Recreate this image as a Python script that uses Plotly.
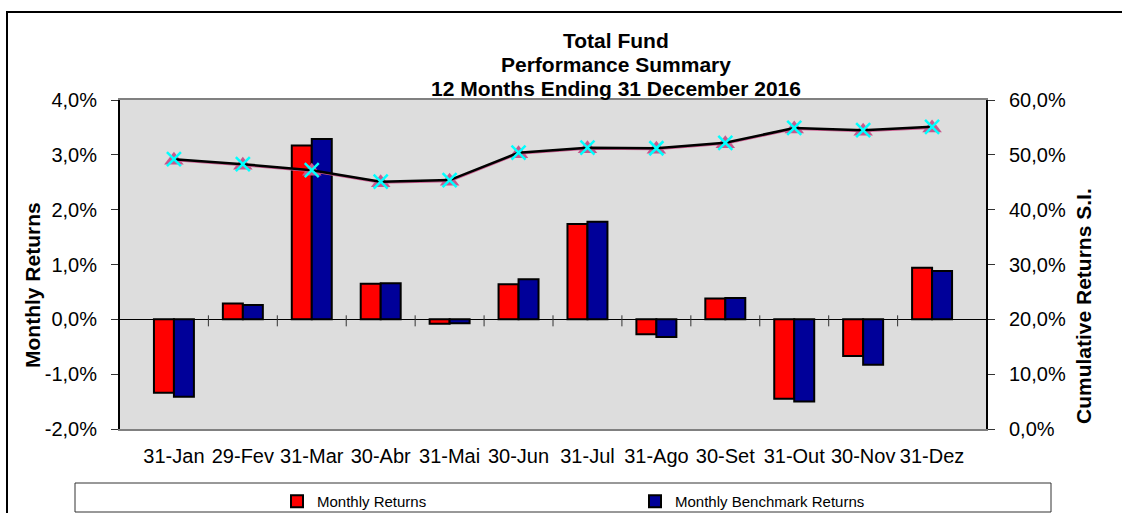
import plotly.graph_objects as go

categories = ["31-Jan", "29-Fev", "31-Mar", "30-Abr", "31-Mai", "30-Jun",
              "31-Jul", "31-Ago", "30-Set", "31-Out", "30-Nov", "31-Dez"]
monthly_returns = [-1.34, 0.29, 3.17, 0.65, -0.08, 0.64, 1.74, -0.27, 0.38, -1.45, -0.67, 0.94]
benchmark_returns = [-1.41, 0.26, 3.29, 0.66, -0.07, 0.73, 1.78, -0.32, 0.39, -1.50, -0.83, 0.88]
cumulative_fund = [49.2, 48.3, 47.2, 45.1, 45.4, 50.4, 51.3, 51.2, 52.2, 54.9, 54.5, 55.1]
cumulative_bench = [49.0, 48.1, 47.0, 44.9, 45.2, 50.2, 51.1, 51.0, 52.0, 54.7, 54.3, 54.9]
left_tick_values = [-2, -1, 0, 1, 2, 3, 4]
left_tick_labels = ["-2,0%", "-1,0%", "0,0%", "1,0%", "2,0%", "3,0%", "4,0%"]
right_tick_values = [0, 10, 20, 30, 40, 50, 60]
right_tick_labels = ["0,0%", "10,0%", "20,0%", "30,0%", "40,0%", "50,0%", "60,0%"]
title_lines = ["Total Fund", "Performance Summary", "12 Months Ending 31 December 2016"]

FONT = "Arial, Liberation Sans, sans-serif"
W, H = 1122, 513
L, R, T, B = 120, 136, 100, 84
PW, PH = W - L - R, H - T - B


def px(x):
    return (x - L) / PW


def py(y):
    return (H - B - y) / PH


fig = go.Figure()
fig.add_trace(go.Bar(x=categories, y=monthly_returns, name="Monthly Returns",
                     marker=dict(color="#FF0000", line=dict(color="black", width=2))))
fig.add_trace(go.Bar(x=categories, y=benchmark_returns, name="Monthly Benchmark Returns",
                     marker=dict(color="#000099", line=dict(color="black", width=2))))
fig.add_trace(go.Scatter(x=categories, y=cumulative_bench, yaxis="y2", mode="lines+markers",
                         showlegend=False,
                         line=dict(color="#CC5C8F", width=2),
                         marker=dict(symbol="triangle-up", size=17, color="#C8578C",
                                     line=dict(width=0))))
fig.add_trace(go.Scatter(x=categories, y=cumulative_fund, yaxis="y2", mode="lines+markers",
                         showlegend=False,
                         line=dict(color="black", width=2.5),
                         marker=dict(symbol="x-thin", size=14, color="#00FFFF",
                                     line=dict(color="#00FFFF", width=2.5))))

shapes = []
# tick marks on the zero line at category boundaries
for i in range(len(categories) - 1):
    shapes.append(dict(type="line", xref="x", yref="y", x0=i + 0.5, x1=i + 0.5,
                       ysizemode="pixel", yanchor=0, y0=-7, y1=4,
                       line=dict(color="#333333", width=1)))
# outer chart border
shapes.append(dict(type="rect", xref="paper", yref="paper",
                   x0=px(7), x1=px(1140), y0=py(12), y1=py(530),
                   line=dict(color="black", width=2), layer="above"))
# legend box
shapes.append(dict(type="rect", xref="paper", yref="paper",
                   x0=px(75), x1=px(1051), y0=py(483), y1=py(512),
                   line=dict(color="#333333", width=1), layer="above"))

annotations = []
for t, yy in zip(title_lines, [41, 65, 89]):
    annotations.append(dict(text="<b>%s</b>" % t, xref="paper", yref="paper",
                            x=px(615.5), y=py(yy), xanchor="center", yanchor="middle",
                            showarrow=False, font=dict(size=21, color="black", family=FONT)))
annotations.append(dict(text="<b>Monthly Returns</b>", xref="paper", yref="paper",
                        x=px(32), y=py(285), textangle=-90, xanchor="center", yanchor="middle",
                        showarrow=False, font=dict(size=21, color="black", family=FONT)))
annotations.append(dict(text="<b>Cumulative Returns S.I.</b>", xref="paper", yref="paper",
                        x=px(1083), y=py(306), textangle=-90, xanchor="center", yanchor="middle",
                        showarrow=False, font=dict(size=21, color="black", family=FONT)))

fig.update_layout(
    width=W, height=H,
    margin=dict(l=L, r=R, t=T, b=B, pad=0, autoexpand=False),
    paper_bgcolor="white",
    plot_bgcolor="#DDDDDD",
    font=dict(family=FONT, color="black", size=20),
    barmode="group", bargap=0.42, bargroupgap=0,
    showlegend=True,
    legend=dict(orientation="h", xref="container", yref="container",
                x=277 / W, y=1 - 485 / H, xanchor="left", yanchor="top",
                bgcolor="rgba(0,0,0,0)", borderwidth=0, entrywidth=313,
                font=dict(size=15, family=FONT, color="black")),
    xaxis=dict(type="category", showgrid=False, showline=True, linecolor="#808080",
               linewidth=2, mirror=True, ticks="outside", ticklen=8, tickangle=0,
               automargin=False,
               tickcolor="rgba(0,0,0,0)", tickfont=dict(size=20), zeroline=False),
    yaxis=dict(range=[-2, 4], tickmode="array", tickvals=left_tick_values,
               ticktext=left_tick_labels,
               showgrid=False, showline=True, linecolor="black", linewidth=2,
               ticks="outside", ticklen=7, tickcolor="#333333", automargin=False,
               zeroline=True, zerolinecolor="black", zerolinewidth=1,
               ticklabelstandoff=10),
    yaxis2=dict(range=[0, 60], tickmode="array", tickvals=right_tick_values,
                ticktext=right_tick_labels,
                overlaying="y", side="right", showgrid=False, showline=True,
                linecolor="black", linewidth=2, ticks="outside", ticklen=7,
                automargin=False,
                tickcolor="#333333", zeroline=False, ticklabelstandoff=10),
    shapes=shapes,
    annotations=annotations,
)

fig.write_html("out.html", config={"displayModeBar": False},
               post_script="document.body.style.margin='0';document.body.style.overflow='hidden';")
